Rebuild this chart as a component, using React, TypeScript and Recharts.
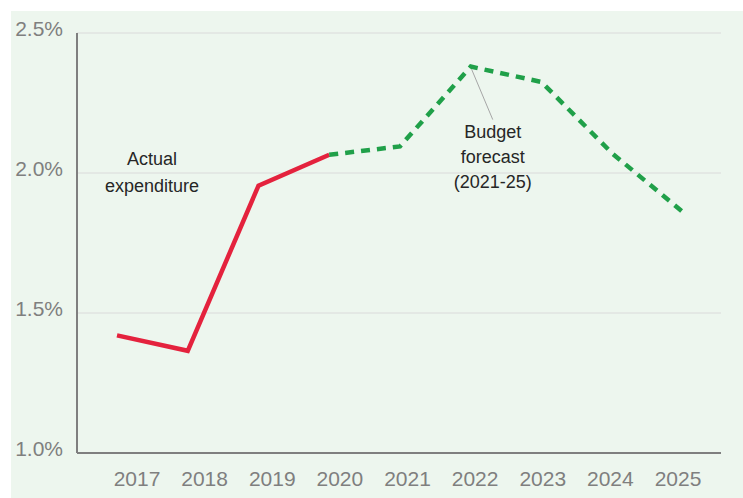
import { LineChart, Line, XAxis, YAxis, CartesianGrid, ReferenceDot } from 'recharts';

const years = ['2017', '2018', '2019', '2020', '2021', '2022', '2023', '2024', '2025'];
const actual = [1.42, 1.365, 1.955, 2.065, null, null, null, null, null];
const forecast = [null, null, null, 2.065, 2.095, 2.38, 2.325, 2.07, 1.86];
const yTicks = [1.0, 1.5, 2.0, 2.5];

const rows = years.map((year, i) => ({ year, actual: actual[i], forecast: forecast[i] }));

const font = '"Liberation Sans", Arial, sans-serif';

function ActualNote(p: any) {
  const { cx, cy } = p;
  return (
    <g fontFamily={font} fontSize={18} fill="#262626" textAnchor="middle">
      <text x={cx + 35} y={cy - 8}>Actual</text>
      <text x={cx + 35} y={cy + 19}>expenditure</text>
    </g>
  );
}

function BudgetNote(p: any) {
  const { cx, cy } = p;
  return (
    <g fontFamily={font} fontSize={18} fill="#262626" textAnchor="middle">
      <line x1={cx + 1} y1={cy + 3} x2={cx + 22} y2={cy + 53} stroke="#a6a6a6" strokeWidth={1} />
      <text x={cx + 22} y={cy + 71}>Budget</text>
      <text x={cx + 22} y={cy + 96}>forecast</text>
      <text x={cx + 22} y={cy + 121}>(2021-25)</text>
    </g>
  );
}

export default function App() {
  return (
    <div style={{ position: 'fixed', left: 0, top: 0, width: 743, height: 498, background: '#fff' }}>
      <div style={{ position: 'absolute', left: 11, top: 11, width: 732, height: 487, background: '#edf6ee' }}>
        <LineChart width={732} height={487} data={rows} margin={{ top: 22, right: 22, bottom: 0, left: 0 }}>
          <CartesianGrid vertical={false} stroke="#dadada" strokeWidth={1} />
          <XAxis xAxisId="pts" dataKey="year" hide padding={{ left: 40, right: 38 }} />
          <XAxis
            xAxisId="lbl"
            dataKey="year"
            height={45}
            padding={{ left: 60, right: 43 }}
            axisLine={{ stroke: '#7f7f7f', strokeWidth: 2 }}
            tickLine={false}
            tickMargin={12}
            tick={{ fill: '#7f7f7f', fontSize: 21, fontFamily: font }}
          />
          <YAxis
            domain={[1, 2.5]}
            ticks={yTicks}
            width={66}
            axisLine={{ stroke: '#7f7f7f', strokeWidth: 2 }}
            tickLine={false}
            tickMargin={8}
            tickFormatter={(v: number) => v.toFixed(1) + '%'}
            tick={{ fill: '#7f7f7f', fontSize: 21, fontFamily: font, dy: -4 }}
          />
          <Line
            xAxisId="pts"
            dataKey="actual"
            type="linear"
            stroke="#e4223d"
            strokeWidth={4.5}
            dot={false}
            activeDot={false}
            connectNulls={false}
            isAnimationActive={false}
          />
          <Line
            xAxisId="pts"
            dataKey="forecast"
            type="linear"
            stroke="#20a049"
            strokeWidth={4.5}
            strokeDasharray="9 7"
            dot={false}
            activeDot={false}
            isAnimationActive={false}
          />
          <ReferenceDot xAxisId="pts" x="2017" y={2.0} r={0} shape={ActualNote} />
          <ReferenceDot xAxisId="pts" x="2022" y={2.38} r={0} shape={BudgetNote} />
        </LineChart>
      </div>
    </div>
  );
}
